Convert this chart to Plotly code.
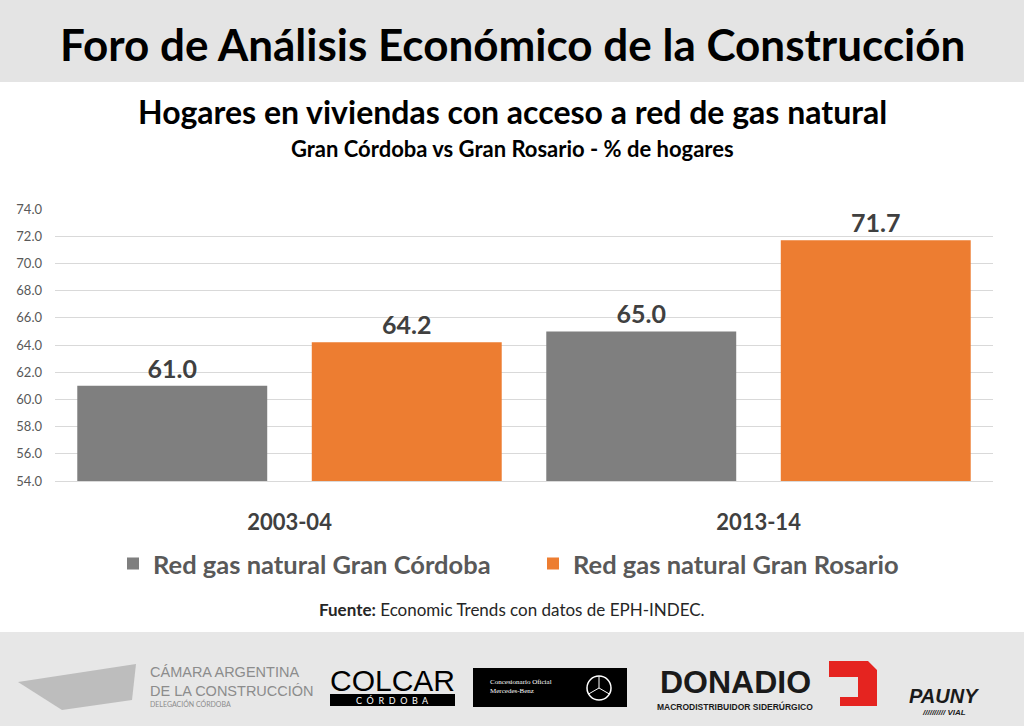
import plotly.graph_objects as go

# datos
periodos = ["2003-04", "2013-14"]
cordoba = [61.0, 65.0]
rosario = [64.2, 71.7]
serie_cordoba = "Red gas natural Gran Córdoba"
serie_rosario = "Red gas natural Gran Rosario"
y_ticks = [54, 56, 58, 60, 62, 64, 66, 68, 70, 72, 74]

FONT = "Lato"
GRIS = "#7f7f7f"
NARANJA = "#ed7d31"

# plot area in pixels (for placing the decoration)
L, R, T, B = 55, 993, 209, 481


def px(x):
    return (x - L) / (R - L)


def py(y):
    return (B - y) / (B - T)


fig = go.Figure()
fig.add_trace(go.Bar(x=periodos, y=cordoba, name=serie_cordoba,
                     marker_color=GRIS, texttemplate="%{y:.1f}",
                     textposition="outside"))
fig.add_trace(go.Bar(x=periodos, y=rosario, name=serie_rosario,
                     marker_color=NARANJA, texttemplate="%{y:.1f}",
                     textposition="outside"))

fig.update_traces(textfont=dict(family=FONT, size=25, color="#404040", weight="bold"),
                  cliponaxis=False, marker_line_width=0)

# mercedes star
cx, cy, r = 599, 688, 12
star = (f"M {px(cx)},{py(cy)} L {px(cx)},{py(cy - r)} "
        f"M {px(cx)},{py(cy)} L {px(cx - 10.4)},{py(cy + 6)} "
        f"M {px(cx)},{py(cy)} L {px(cx + 10.4)},{py(cy + 6)}")

shapes = [
    # header band
    dict(type="rect", xref="paper", yref="paper", x0=px(0), x1=px(1024),
         y0=py(82), y1=py(0), fillcolor="#e4e4e4", line_width=0, layer="below"),
    # footer band
    dict(type="rect", xref="paper", yref="paper", x0=px(0), x1=px(1024),
         y0=py(726), y1=py(632), fillcolor="#e7e7e7", line_width=0, layer="below"),
    # colcar box
    dict(type="rect", xref="paper", yref="paper", x0=px(330), x1=px(455),
         y0=py(706), y1=py(694), fillcolor="black", line_width=0),
    # mercedes box
    dict(type="rect", xref="paper", yref="paper", x0=px(473), x1=px(627),
         y0=py(707), y1=py(668), fillcolor="black", line_width=0),
    dict(type="circle", xref="paper", yref="paper", x0=px(cx - r), x1=px(cx + r),
         y0=py(cy + r), y1=py(cy - r), line=dict(color="white", width=1.5)),
    dict(type="path", xref="paper", yref="paper", path=star,
         line=dict(color="white", width=1)),
    # donadio red D
    dict(type="path", xref="paper", yref="paper",
         path=f"M {px(829)},{py(661)} L {px(868)},{py(661)} L {px(877)},{py(670)} "
              f"L {px(877)},{py(706)} L {px(840)},{py(706)} L {px(840)},{py(697)} "
              f"L {px(858)},{py(697)} L {px(858)},{py(677)} L {px(829)},{py(677)} Z",
         fillcolor="#e52420", line_width=0),
    # aqueduct-ish logo
    dict(type="path", xref="paper", yref="paper",
         path=f"M {px(18)},{py(682)} L {px(136)},{py(664)} L {px(132)},{py(700)} "
              f"L {px(62)},{py(710)} Z",
         fillcolor="#bdbdbd", line_width=0),
]

annotations = [
    dict(text="Foro de Análisis Económico de la Construcción", x=px(512), y=py(44),
         font=dict(family=FONT, size=44, color="black", weight="bold")),
    dict(text="Hogares en viviendas con acceso a red de gas natural", x=px(512), y=py(112),
         font=dict(family=FONT, size=32, color="black", weight="bold")),
    dict(text="Gran Córdoba vs Gran Rosario - % de hogares", x=px(512), y=py(149),
         font=dict(family=FONT, size=22, color="black", weight="bold")),
    dict(text="<b>Fuente:</b> Economic Trends con datos de EPH-INDEC.", x=px(512), y=py(609),
         font=dict(family=FONT, size=17, color="#262626")),
    # footer logos
    dict(text="CÁMARA ARGENTINA<br>DE LA CONSTRUCCIÓN", x=px(148), y=py(681), xanchor="left",
         align="left", font=dict(family="Liberation Sans", size=14.5, color="#8c8c8c")),
    dict(text="DELEGACIÓN CÓRDOBA", x=px(148), y=py(703), xanchor="left",
         font=dict(family=FONT, size=7, color="#8c8c8c")),
    dict(text="COLCAR", x=px(392), y=py(680),
         font=dict(family="Liberation Sans", size=30, color="black")),
    dict(text="C  Ó  R  D  O  B  A", x=px(392), y=py(700),
         font=dict(family=FONT, size=9, color="white")),
    dict(text="Concesionario Oficial<br>Mercedes-Benz", x=px(488), y=py(686), xanchor="left",
         align="left", font=dict(family="Liberation Serif", size=7, color="white")),
    dict(text="DONADIO", x=px(735), y=py(682),
         font=dict(family="Liberation Sans", size=32, color="#1a1a1a", weight="bold")),
    dict(text="MACRODISTRIBUIDOR SIDERÚRGICO", x=px(735), y=py(706),
         font=dict(family="Liberation Sans", size=8.5, color="#1a1a1a", weight="bold")),
    dict(text="<i>PAUNY</i>", x=px(944), y=py(696),
         font=dict(family="Liberation Sans", size=20, color="#1a1a1a", weight="bold")),
    dict(text="<i>////////// VIAL</i>", x=px(944), y=py(712),
         font=dict(family="Liberation Sans", size=8, color="#1a1a1a", weight="bold")),
]
for a in annotations:
    a.update(xref="paper", yref="paper", showarrow=False)
    a.setdefault("xanchor", "center")
    a.setdefault("yanchor", "middle")

fig.update_layout(
    width=1024, height=726,
    margin=dict(l=L, r=1024 - R, t=T, b=726 - B),
    paper_bgcolor="white", plot_bgcolor="white",
    barmode="group", bargap=0, bargroupgap=0.19,
    font=dict(family=FONT),
    showlegend=True,
    legend=dict(orientation="h", x=px(113), xanchor="left", y=py(564), yanchor="middle",
                font=dict(family=FONT, size=25.5, color="#595959", weight="bold"),
                entrywidth=375, entrywidthmode="pixels"),
    shapes=shapes,
    annotations=annotations,
)
fig.update_xaxes(type="category",
                 tickfont=dict(family=FONT, size=22, color="#404040", weight="bold"),
                 ticklabelstandoff=22, showline=True, linecolor="#d9d9d9", linewidth=1)
fig.update_yaxes(range=[54, 74], tickvals=y_ticks, tickformat=".1f",
                 tickfont=dict(family=FONT, size=13, color="#595959"),
                 gridcolor="#d9d9d9", gridwidth=1, zeroline=False,
                 ticklabelstandoff=12)

fig.write_html("out.html", config={"displayModeBar": False},
               post_script="document.body.style.margin='0';")
